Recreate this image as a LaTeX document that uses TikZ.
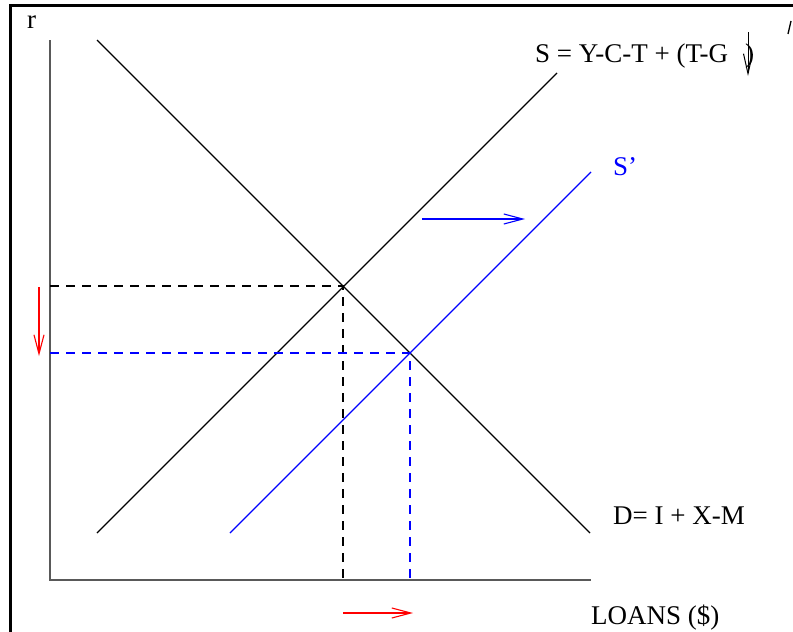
\documentclass[tikz,border=0pt]{standalone}
\usepackage{fontspec}
\setmainfont{Liberation Serif}
\usetikzlibrary{arrows.meta}
\begin{document}
\begin{tikzpicture}[x=1pt,y=-1pt,
  lbl/.style={inner sep=0pt,anchor=base west,font=\fontsize{27}{31}\selectfont},
  curve/.style={line width=1.1pt},
  dashln/.style={line width=1.1pt,dash pattern=on 9pt off 7pt},
  axis/.style={line width=2pt,draw=black!65},
  barb/.style={-{Straight Barb[length=19pt,width=10pt,line width=1.1pt]},line width=1.1pt},
  frame/.style={line width=3pt}]
\useasboundingbox (0,0) rectangle (793,632);
% frame
\draw[frame] (10,632) -- (10,5) -- (793,5);
\draw[line width=1.3pt] (788,34) -- (791,21);
% coordinates
\coordinate (O) at (50,580);
\coordinate (Ytop) at (50,40);
\coordinate (Xend) at (591,580);
\coordinate (Dtop) at (97,40);
\coordinate (Dbot) at (590,533);
\coordinate (Sbot) at (97,533);
\coordinate (Stop) at (557,73);
\coordinate (SPbot) at (230,533);
\coordinate (SPtop) at (591,172);
\coordinate (E1) at (343,286);
\coordinate (E2) at (410,353);
\coordinate (E1y) at (50,286);
\coordinate (E1x) at (343,580);
\coordinate (E2y) at (50,353);
\coordinate (E2x) at (410,580);
% axes
\draw[axis] (Ytop) -- (O) -- (Xend);
% curves
\draw[curve] (Dtop) -- (Dbot);
\draw[curve] (Sbot) -- (Stop);
\draw[curve,blue] (SPbot) -- (SPtop);
% dashed guides
\draw[dashln] (E1y) -- (E1) -- (E1x);
\draw[dashln,blue] (E2y) -- (E2) -- (E2x);
% arrows
\coordinate (ra1) at (39,287); \coordinate (ra2) at (39,356);
\draw[barb,red] (ra1) -- (ra2);
\coordinate (ba1) at (422,219); \coordinate (ba2) at (525,219);
\draw[barb,blue] (ba1) -- (ba2);
\coordinate (rb1) at (343,613); \coordinate (rb2) at (413,613);
\draw[barb,red] (rb1) -- (rb2);
% labels
\node[lbl] (r) at (27,28) {r};
\node[lbl] (slbl) at (535,62) {S = Y-C-T + (T-G};
\node[lbl] (sparen) at (745,62) {)};
\coordinate (da1) at (748,32); \coordinate (da2) at (748,76);
\draw[-{Straight Barb[length=20pt,width=9pt,line width=1pt]},line width=1pt] (da1) -- (da2);
\node[lbl,blue] (sp) at (613,175) {S’};
\node[lbl] (dlbl) at (613,524) {D= I + X-M};
\node[lbl] (loans) at (591,624) {LOANS (\$)};
\end{tikzpicture}
\end{document}
